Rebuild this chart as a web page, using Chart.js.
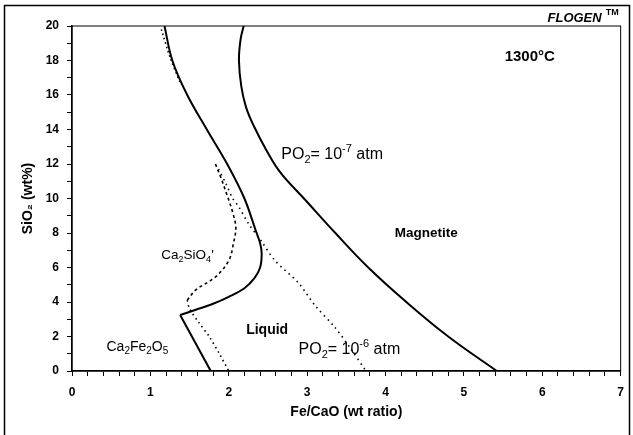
<!DOCTYPE html>
<html>
<head>
<meta charset="utf-8">
<script src="https://cdn.jsdelivr.net/npm/chart.js@4/dist/chart.umd.min.js"></script>
<style>
  body { margin: 0; background: #fff; }
  #wrap { width: 633px; height: 435px; position: relative; }
</style>
</head>
<body>
<div id="wrap"><canvas id="diagram"></canvas></div>
<script>
// boundary of Ca2SiO4 / Liquid at PO2 = 10^-7 (solid)
const solidLeftX = [1.18, 1.28, 1.47, 1.72, 1.98, 2.2, 2.34, 2.40, 2.42, 2.40, 2.33, 2.2, 2.0, 1.8, 1.58, 1.38];
const solidLeftY = [20, 18, 16, 14, 12, 10, 8.2, 7.4, 6.8, 6.0, 5.4, 4.8, 4.3, 3.9, 3.55, 3.25];
// Ca2Fe2O5 / Liquid at PO2 = 10^-7
const solidLowX = [1.38, 1.77];
const solidLowY = [3.25, 0];
// Magnetite / Liquid at PO2 = 10^-7
const magnetiteX = [2.19, 2.15, 2.13, 2.16, 2.22, 2.32, 2.48, 2.66, 2.98, 3.36, 3.78, 4.24, 4.8, 5.42];
const magnetiteY = [20, 19.2, 18, 16.5, 15.3, 14.2, 12.8, 11.5, 9.9, 8.0, 6.0, 4.1, 2.0, 0];
// PO2 = 10^-6 boundaries (dotted / dashed)
const dashedSiX = [1.83, 1.9, 1.97, 2.05, 2.09, 2.06, 2.0, 1.83, 1.58, 1.47];
const dashedSiY = [12, 11.2, 10.3, 9.2, 8.3, 7.4, 6.4, 5.45, 4.7, 4.1];
const dottedFeX = [1.47, 1.5, 1.62, 1.75, 1.88, 2.0];
const dottedFeY = [4.1, 3.6, 2.8, 2.0, 1.0, 0];
const dottedMagX = [1.87, 1.97, 2.05, 2.13, 2.25, 2.42, 2.59, 2.89, 3.1, 3.35, 3.54, 3.75];
const dottedMagY = [11.7, 10.8, 10.0, 9.5, 8.55, 7.5, 6.4, 5.1, 3.8, 2.55, 1.4, 0];
const dottedTopX = [1.14, 1.25, 1.39];
const dottedTopY = [19.8, 18.2, 16.6];

const xMin = 0, xMax = 7, xStep = 0.2;
const yMin = 0, yMax = 20, yStep = 1;

// region labels, placed in data units
const labels = [
  { x: 2.67, y: 12.52, size: 16, weight: 'normal', align: 'left', parts: [['PO', 0], ['2', -1], ['= 10', 0], ['-7', 1], [' atm', 0]] },
  { x: 2.89, y: 1.22, size: 16, weight: 'normal', align: 'left', parts: [['PO', 0], ['2', -1], ['= 10', 0], ['-6', 1], [' atm', 0]] },
  { x: 4.52, y: 8.0, size: 13.5, weight: 'bold', align: 'center', parts: [['Magnetite', 0]] },
  { x: 2.49, y: 2.38, size: 14, weight: 'bold', align: 'center', parts: [['Liquid', 0]] },
  { x: 0.44, y: 1.39, size: 14, weight: 'normal', align: 'left', parts: [['Ca', 0], ['2', -1], ['Fe', 0], ['2', -1], ['O', 0], ['5', -1]] },
  { x: 1.14, y: 6.72, size: 13.5, weight: 'normal', align: 'left', parts: [['Ca', 0], ['2', -1], ['SiO', 0], ['4', -1], ['\'', 0]] },
  { x: 5.52, y: 18.2, size: 15, weight: 'bold', align: 'left', parts: [['1300°C', 0]] }
];

function pts(xs, ys) {
  return xs.map((x, i) => ({ x: x, y: ys[i] }));
}

function line(xs, ys, dash, width, tension) {
  return {
    data: pts(xs, ys),
    showLine: true,
    borderColor: '#000',
    borderWidth: width,
    borderDash: dash,
    pointRadius: 0,
    tension: tension,
    fill: false
  };
}

function drawRich(ctx, x, y, parts, size, weight, align) {
  const fam = '"Liberation Sans", Arial, sans-serif';
  const small = Math.round(size * 0.68);
  let total = 0;
  parts.forEach(p => {
    ctx.font = weight + ' ' + (p[1] === 0 ? size : small) + 'px ' + fam;
    total += ctx.measureText(p[0]).width;
  });
  let cx = align === 'center' ? x - total / 2 : x;
  ctx.textBaseline = 'middle';
  ctx.textAlign = 'left';
  parts.forEach(p => {
    const s = p[1] === 0 ? size : small;
    ctx.font = weight + ' ' + s + 'px ' + fam;
    const dy = p[1] === -1 ? size * 0.3 : (p[1] === 1 ? -size * 0.4 : 0);
    ctx.fillText(p[0], cx, y + dy);
    cx += ctx.measureText(p[0]).width;
  });
}

const decorations = {
  id: 'decorations',
  afterDatasetsDraw(chart) {
    const { ctx, chartArea } = chart;
    const xs = chart.scales.x, ys = chart.scales.y;
    ctx.save();
    ctx.fillStyle = '#000';
    ctx.strokeStyle = '#000';
    // plot frame
    ctx.lineWidth = 1;
    ctx.strokeRect(chartArea.left, chartArea.top, chartArea.right - chartArea.left, chartArea.bottom - chartArea.top);
    // outer frame
    ctx.lineWidth = 1.5;
    ctx.beginPath();
    ctx.moveTo(4.5, 440);
    ctx.lineTo(4.5, 5.5);
    ctx.lineTo(629.5, 5.5);
    ctx.lineTo(629.5, 440);
    ctx.stroke();
    labels.forEach(l => {
      drawRich(ctx, xs.getPixelForValue(l.x), ys.getPixelForValue(l.y), l.parts, l.size, l.weight, l.align);
    });
    // FLOGEN mark
    ctx.font = 'italic bold 13px "Liberation Sans", Arial, sans-serif';
    ctx.textAlign = 'right';
    ctx.textBaseline = 'middle';
    ctx.fillText('FLOGEN', chartArea.right - 19, chartArea.top - 8);
    ctx.font = 'bold 9px "Liberation Sans", Arial, sans-serif';
    ctx.fillText('TM', chartArea.right - 2, chartArea.top - 13);
    ctx.restore();
  }
};

const isWhole = v => Math.abs(v - Math.round(v)) < 1e-6;

new Chart(document.getElementById('diagram'), {
  type: 'scatter',
  data: {
    datasets: [
      line(solidLeftX, solidLeftY, [], 2, 0.35),
      line(solidLowX, solidLowY, [], 2, 0),
      line(magnetiteX, magnetiteY, [], 2, 0.4),
      line(dashedSiX, dashedSiY, [3, 3], 1.6, 0.35),
      line(dottedFeX, dottedFeY, [1.5, 3.5], 1.6, 0.3),
      line(dottedMagX, dottedMagY, [1.5, 4], 1.6, 0.3),
      line(dottedTopX, dottedTopY, [1.5, 3], 1.6, 0.3)
    ]
  },
  options: {
    responsive: true,
    maintainAspectRatio: false,
    animation: false,
    layout: { padding: { top: 26, right: 7, left: 0, bottom: 0 } },
    plugins: {
      legend: { display: false },
      tooltip: { enabled: false }
    },
    scales: {
      x: {
        type: 'linear',
        min: xMin,
        max: xMax,
        afterFit: s => { s.height = 64; },
        ticks: {
          stepSize: xStep,
          autoSkip: false,
          maxRotation: 0,
          padding: 9,
          color: '#000',
          font: { family: '"Liberation Sans", Arial, sans-serif', size: 12, weight: 'bold' },
          callback: v => isWhole(v) ? Math.round(v) : ''
        },
        grid: { drawOnChartArea: false, color: '#000', tickLength: 5 },
        border: { color: '#000', width: 1.5 },
        title: {
          display: true,
          text: 'Fe/CaO (wt ratio)',
          color: '#000',
          font: { family: '"Liberation Sans", Arial, sans-serif', size: 14, weight: 'bold' },
          padding: { top: 0, bottom: 14 }
        }
      },
      y: {
        type: 'linear',
        min: yMin,
        max: yMax,
        afterFit: s => { s.width = 72; },
        ticks: {
          stepSize: yStep,
          autoSkip: false,
          padding: 8,
          color: '#000',
          font: { family: '"Liberation Sans", Arial, sans-serif', size: 12, weight: 'bold' },
          callback: v => (isWhole(v) && Math.round(v) % 2 === 0) ? Math.round(v) : ''
        },
        grid: { drawOnChartArea: false, color: '#000', tickLength: 5 },
        border: { color: '#000', width: 1.5 },
        title: {
          display: true,
          text: 'SiO₂ (wt%)',
          color: '#000',
          font: { family: '"Liberation Sans", Arial, sans-serif', size: 14, weight: 'bold' },
          padding: { top: 20, bottom: 0 }
        }
      }
    }
  },
  plugins: [decorations]
});
</script>
</body>
</html>
